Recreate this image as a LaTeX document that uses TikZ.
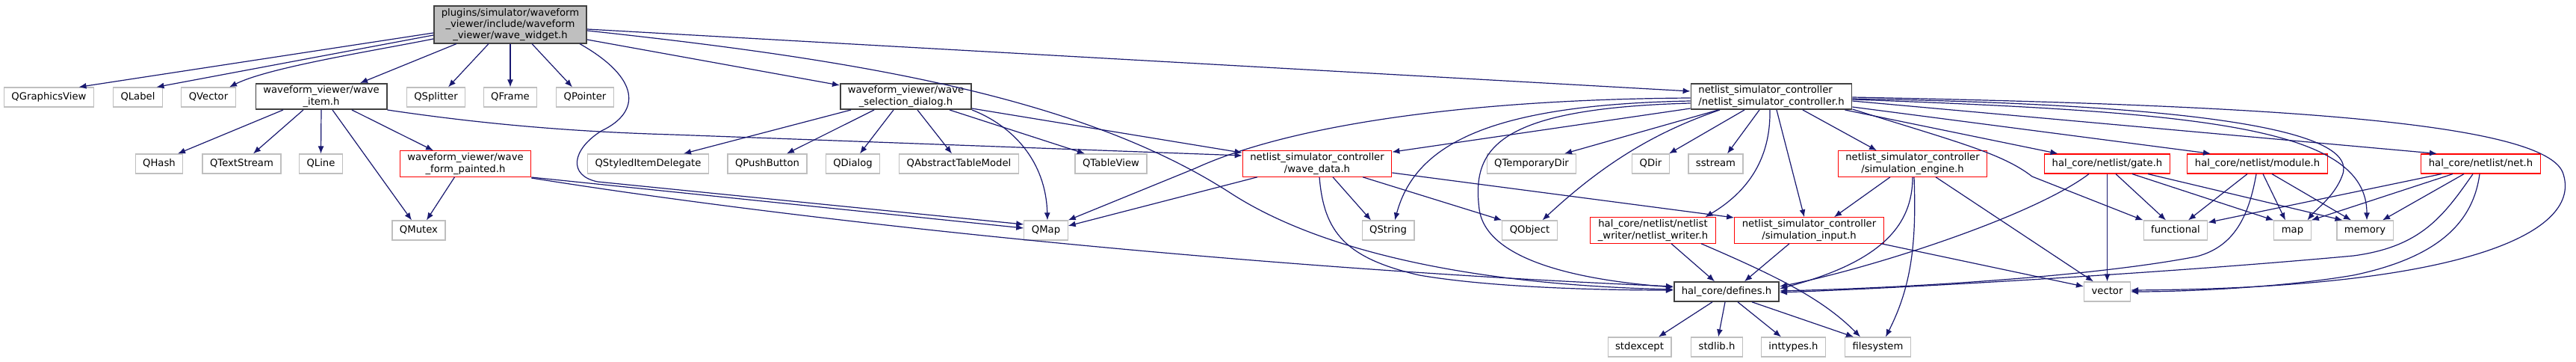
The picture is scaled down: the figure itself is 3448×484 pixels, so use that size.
\documentclass[tikz,border=0pt]{standalone}
\usepackage{fontspec}
\setmainfont{DejaVu Sans}
\usetikzlibrary{arrows.meta}

\definecolor{edgeblue}{HTML}{191970}
\definecolor{sysgray}{HTML}{BFBFBF}
\definecolor{docgray}{HTML}{404040}
\definecolor{hdrred}{HTML}{FF0000}

\begin{document}
\begin{tikzpicture}[x=1pt,y=-1pt]
	\tikzset{hdr/.style = {shape=rectangle, draw, fill=white, line width=1.2pt,
			inner xsep=10pt, inner ysep=3pt, minimum height=26pt, align=center,
			font=\fontsize{13.2pt}{15.2pt}\selectfont}}
	\tikzset{oneline/.style = {text height=9.8pt, text depth=3.2pt}}
	\tikzset{hdrSys/.style = {hdr, oneline, draw=sysgray}}
	\tikzset{hdrRed/.style = {hdr, draw=hdrred}}
	\tikzset{hdrDoc/.style = {hdr, draw=docgray, line width=1.6pt}}
	\tikzset{hdrRoot/.style = {hdrDoc, fill=sysgray}}
	\tikzset{edge/.style = {-{Latex[length=10pt,width=8pt]}, draw=edgeblue, line width=1.2pt}}

	\fill[white] (0,0) rectangle (3448,484);
	\useasboundingbox (0,0) rectangle (3448,484);

	% vertices
	\node[hdrRoot] (ww) at (683,33) {plugins/simulator/waveform\\\_viewer/include/waveform\\\_viewer/wave\_widget.h};

	\node[hdrSys] (qgv) at (65.5,130) {QGraphicsView};
	\node[hdrSys] (qlabel) at (184.5,130) {QLabel};
	\node[hdrSys] (qvector) at (279,130) {QVector};
	\node[hdrDoc] (wi) at (430,129) {waveform\_viewer/wave\\\_item.h};
	\node[hdrSys] (qsplitter) at (583.5,130) {QSplitter};
	\node[hdrSys] (qframe) at (683,130) {QFrame};
	\node[hdrSys] (qpointer) at (783,130) {QPointer};
	\node[hdrDoc] (wsd) at (1212.5,129) {waveform\_viewer/wave\\\_selection\_dialog.h};
	\node[hdrDoc, align=left] (nsc) at (2371,129) {netlist\_simulator\_controller\\/netlist\_simulator\_controller.h};

	\node[hdrSys] (qhash) at (213,219) {QHash};
	\node[hdrSys] (qtextstream) at (323.5,219) {QTextStream};
	\node[hdrSys] (qline) at (429.5,219) {QLine};
	\node[hdrRed] (wfp) at (623,219) {waveform\_viewer/wave\\\_form\_painted.h};
	\node[hdrSys] (qsid) at (867.5,219) {QStyledItemDelegate};
	\node[hdrSys] (qpushbutton) at (1027,219) {QPushButton};
	\node[hdrSys] (qdialog) at (1141.5,219) {QDialog};
	\node[hdrSys] (qatm) at (1283.5,219) {QAbstractTableModel};
	\node[hdrSys] (qtableview) at (1487,219) {QTableView};
	\node[hdrRed] (wd) at (1763,219) {netlist\_simulator\_controller\\/wave\_data.h};
	\node[hdrSys] (qtempdir) at (2050,219) {QTemporaryDir};
	\node[hdrSys] (qdir) at (2209.5,219) {QDir};
	\node[hdrSys] (sstream) at (2296.5,219) {sstream};
	\node[hdrRed] (se) at (2560,219) {netlist\_simulator\_controller\\/simulation\_engine.h};
	\node[hdrRed, oneline] (gate) at (2820.5,219) {hal\_core/netlist/gate.h};
	\node[hdrRed, oneline] (module) at (3021.5,219) {hal\_core/netlist/module.h};
	\node[hdrRed, oneline] (net) at (3320.5,219) {hal\_core/netlist/net.h};

	\node[hdrSys] (qmutex) at (560.5,308) {QMutex};
	\node[hdrSys] (qmap) at (1400,308) {QMap};
	\node[hdrSys] (qstring) at (1858,308) {QString};
	\node[hdrSys] (qobject) at (2047.5,308) {QObject};
	\node[hdrRed] (nw) at (2212.5,308) {hal\_core/netlist/netlist\\\_writer/netlist\_writer.h};
	\node[hdrRed] (si) at (2421.5,308) {netlist\_simulator\_controller\\/simulation\_input.h};
	\node[hdrSys] (functional) at (2912,308) {functional};
	\node[hdrSys] (map) at (3068.5,308) {map};
	\node[hdrSys] (memory) at (3165.5,308) {memory};

	\node[hdrDoc, oneline] (defines) at (2311,390) {hal\_core/defines.h};
	\node[hdrSys] (vector) at (2820.5,390) {vector};

	\node[hdrSys] (stdexcept) at (2194.5,464) {stdexcept};
	\node[hdrSys] (stdlibh) at (2298,464) {stdlib.h};
	\node[hdrSys] (inttypes) at (2400.5,464) {inttypes.h};
	\node[hdrSys] (filesystem) at (2513.5,464) {filesystem};

	%edges
	\draw[edge] ([yshift=-11pt]ww.west) to ([xshift=40pt]qgv.north);
	\draw[edge] ([yshift=-14pt]ww.west) to ([xshift=25pt]qlabel.north);
	\draw[edge] ([yshift=-19pt]ww.west) .. controls (500,68) and (360,90) .. ([xshift=28pt]qvector.north);
	\draw[edge] ([xshift=-72pt]ww.south) to ([xshift=52pt]wi.north);
	\draw[edge] ([xshift=-29pt]ww.south) to ([xshift=16.5pt]qsplitter.north);
	\draw[edge] (ww.south) to (qframe.north);
	\draw[edge] ([xshift=29pt]ww.south) to ([xshift=-17pt]qpointer.north);
	\draw[edge] ([xshift=93pt]ww.south) .. controls (858,105) and (858,150) .. (805,175)
		.. controls (765,200) and (760,235) .. (800,243) -- ([yshift=8pt]qmap.west);
	\draw[edge] ([yshift=-20pt]ww.east) to ([yshift=15pt]wsd.west);
	\draw[edge] ([yshift=-6pt]ww.east) to ([yshift=7pt]nsc.west);
	\draw[edge] ([yshift=-8pt]ww.east) .. controls (1150,80) and (1450,130) .. (1650,260)
		.. controls (1760,330) and (1950,380) .. ([yshift=3pt]defines.west);

	\draw[edge] ([xshift=-51pt]wi.south) to ([xshift=25pt]qhash.north);
	\draw[edge] ([xshift=-24pt]wi.south) to ([xshift=15.5pt]qtextstream.north);
	\draw[edge] (wi.south) to (qline.north);
	\draw[edge] ([xshift=15pt]wi.south) to ([xshift=-9.5pt]qmutex.north);
	\draw[edge] ([xshift=41pt]wi.south) to ([xshift=-43pt]wfp.north);
	\draw[edge] (wi.south east) .. controls (640,165) and (760,176) .. (900,180) -- ([yshift=11pt]wd.west);

	\draw[edge] ([xshift=-14.5pt]wfp.south) to ([xshift=10.5pt]qmutex.north);
	\draw[edge] ([yshift=-18pt]wfp.east) to ([yshift=3pt]qmap.west);
	\draw[edge] ([yshift=-19pt]wfp.east) .. controls (1100,300) and (1700,360) .. ([yshift=7pt]defines.west);

	\draw[edge] ([xshift=-73.5pt]wsd.south) to ([xshift=47.5pt]qsid.north);
	\draw[edge] ([xshift=-42.5pt]wsd.south) to ([xshift=26pt]qpushbutton.north);
	\draw[edge] ([xshift=-16.5pt]wsd.south) to ([xshift=9.5pt]qdialog.north);
	\draw[edge] ([xshift=15.5pt]wsd.south) to ([xshift=-9.5pt]qatm.north);
	\draw[edge] ([xshift=58.5pt]wsd.south) to ([xshift=-35pt]qtableview.north);
	\draw[edge] (wsd.south east) .. controls (1355,168) and (1400,215) .. ([xshift=2pt]qmap.north);
	\draw[edge] ([yshift=-16pt]wsd.east) to ([yshift=-3pt]wd.north west);

	\draw[edge] ([xshift=-80pt]wd.south) to ([yshift=6pt]qmap.east);
	\draw[edge] ([xshift=21pt]wd.south) to ([xshift=-23pt]qstring.north);
	\draw[edge] ([xshift=61pt]wd.south) to (qobject.north west);
	\draw[edge] ([xshift=3pt]wd.south) .. controls (1772,310) and (1800,345) .. (1900,368)
		.. controls (2000,385) and (2150,388) .. ([yshift=2pt]defines.west);
	\draw[edge] ([yshift=-12pt]wd.east) to ([yshift=17pt]si.west);

	\draw[edge] ([yshift=-16pt]nsc.west) to ([yshift=-2pt]wd.north east);
	\draw[edge] ([yshift=-2pt]nsc.west) .. controls (1950,133) and (1720,170) .. (1600,225) -- (qmap.north east);
	\draw[edge] ([yshift=-6pt]nsc.west) .. controls (2000,140) and (1895,190) .. ([xshift=9pt]qstring.north);
	\draw[edge] ([yshift=-9pt]nsc.west) .. controls (2000,145) and (1970,200) .. (1980,280)
		.. controls (1990,350) and (2120,375) .. ([yshift=6pt]defines.west);
	\draw[edge] ([xshift=-71pt]nsc.south) to ([xshift=44pt]qtempdir.north);
	\draw[edge] ([xshift=-69pt]nsc.south) .. controls (2220,175) and (2150,215) .. ([xshift=17pt]qobject.north);
	\draw[edge] ([xshift=-36pt]nsc.south) to ([xshift=24.5pt]qdir.north);
	\draw[edge] ([xshift=-16pt]nsc.south) to ([xshift=15.5pt]sstream.north);
	\draw[edge] ([xshift=-2pt]nsc.south) .. controls (2370,200) and (2350,250) .. ([xshift=70pt]nw.north);
	\draw[edge] ([xshift=7pt]nsc.south) to ([xshift=-6.5pt]si.north);
	\draw[edge] ([xshift=42pt]nsc.south) to ([xshift=-48pt]se.north);
	\draw[edge] ([xshift=-10pt]nsc.south east) to ([xshift=-66pt]gate.north);
	\draw[edge] ([yshift=-14pt]nsc.east) to ([xshift=-62.5pt]module.north);
	\draw[edge] ([yshift=-6pt]nsc.east) to ([xshift=-58.5pt]net.north);
	\draw[edge] ([yshift=-17pt]nsc.east) .. controls (2620,190) and (2680,205) .. (2720,236) -- (functional.north west);
	\draw[edge] ([yshift=-3pt]nsc.east) .. controls (2950,140) and (3160,175) .. (3135,235)
		.. controls (3125,262) and (3100,280) .. ([xshift=20pt]map.north);
	\draw[edge] ([yshift=-4pt]nsc.east) .. controls (2950,150) and (3168,170) .. ([xshift=2.5pt]memory.north);
	\draw[edge] ([yshift=-1pt]nsc.east) .. controls (3000,140) and (3400,160) .. (3430,230)
		.. controls (3460,310) and (3300,385) .. ([yshift=2pt]vector.east);

	\draw[edge] ([xshift=-30pt]se.south) to ([xshift=33.5pt]si.north);
	\draw[edge] (se.south) .. controls (2560,300) and (2520,350) .. ([yshift=4pt]defines.east);
	\draw[edge] ([xshift=31pt]se.south) to ([xshift=-18.5pt]vector.north);
	\draw[edge] ([xshift=2pt]se.south) .. controls (2565,320) and (2560,380) .. ([xshift=10.5pt]filesystem.north);

	\draw[edge] ([xshift=24.5pt]nw.south) to ([xshift=-16pt]defines.north);
	\draw[edge] ([xshift=64.5pt]nw.south) .. controls (2380,370) and (2440,400) .. ([xshift=-23.5pt]filesystem.north);

	\draw[edge] ([xshift=-26.5pt]si.south) to ([xshift=24pt]defines.north);
	\draw[edge] ([xshift=96.5pt]si.south) to ([yshift=7pt]vector.west);

	\draw[edge] ([xshift=-19pt]defines.south) to ([xshift=25.5pt]stdexcept.north);
	\draw[edge] ([xshift=-2pt]defines.south) to ([xshift=2pt]stdlibh.north);
	\draw[edge] ([xshift=15pt]defines.south) to ([xshift=-16.5pt]inttypes.north);
	\draw[edge] ([xshift=34pt]defines.south) to ([xshift=-32.5pt]filesystem.north);

	\draw[edge] ([xshift=-24.5pt]gate.south) .. controls (2720,290) and (2500,360) .. ([yshift=7pt]defines.east);
	\draw[edge] (gate.south) to (vector.north);
	\draw[edge] ([xshift=11.5pt]gate.south) to ([xshift=-13pt]functional.north);
	\draw[edge] ([xshift=33.5pt]gate.south) to (map.north west);
	\draw[edge] ([xshift=54.5pt]gate.south) to ([xshift=-30pt]memory.north);

	\draw[edge] ([xshift=-13.5pt]module.south) to ([xshift=17pt]functional.north);
	\draw[edge] ([xshift=-1.5pt]module.south) .. controls (3010,290) and (2990,330) .. (2940,343)
		.. controls (2800,370) and (2550,385) .. ([yshift=1pt]defines.east);
	\draw[edge] ([xshift=7.5pt]module.south) to ([xshift=-9.5pt]map.north);
	\draw[edge] ([xshift=19.5pt]module.south) to ([xshift=-18.5pt]memory.north);

	\draw[edge] ([xshift=-52.5pt]net.south) to ([yshift=-3pt]functional.north east);
	\draw[edge] ([xshift=-37.5pt]net.south) to (map.north east);
	\draw[edge] ([xshift=-22.5pt]net.south) to ([xshift=23.5pt]memory.north);
	\draw[edge] ([xshift=-10.5pt]net.south) .. controls (3270,290) and (3240,330) .. (3150,342)
		.. controls (2900,365) and (2550,385) .. ([yshift=-1pt]defines.east);
	\draw[edge] ([xshift=-1.5pt]net.south) .. controls (3310,300) and (3260,345) .. (3150,368)
		.. controls (3050,385) and (2920,390) .. (vector.east);

\end{tikzpicture}
\end{document}
